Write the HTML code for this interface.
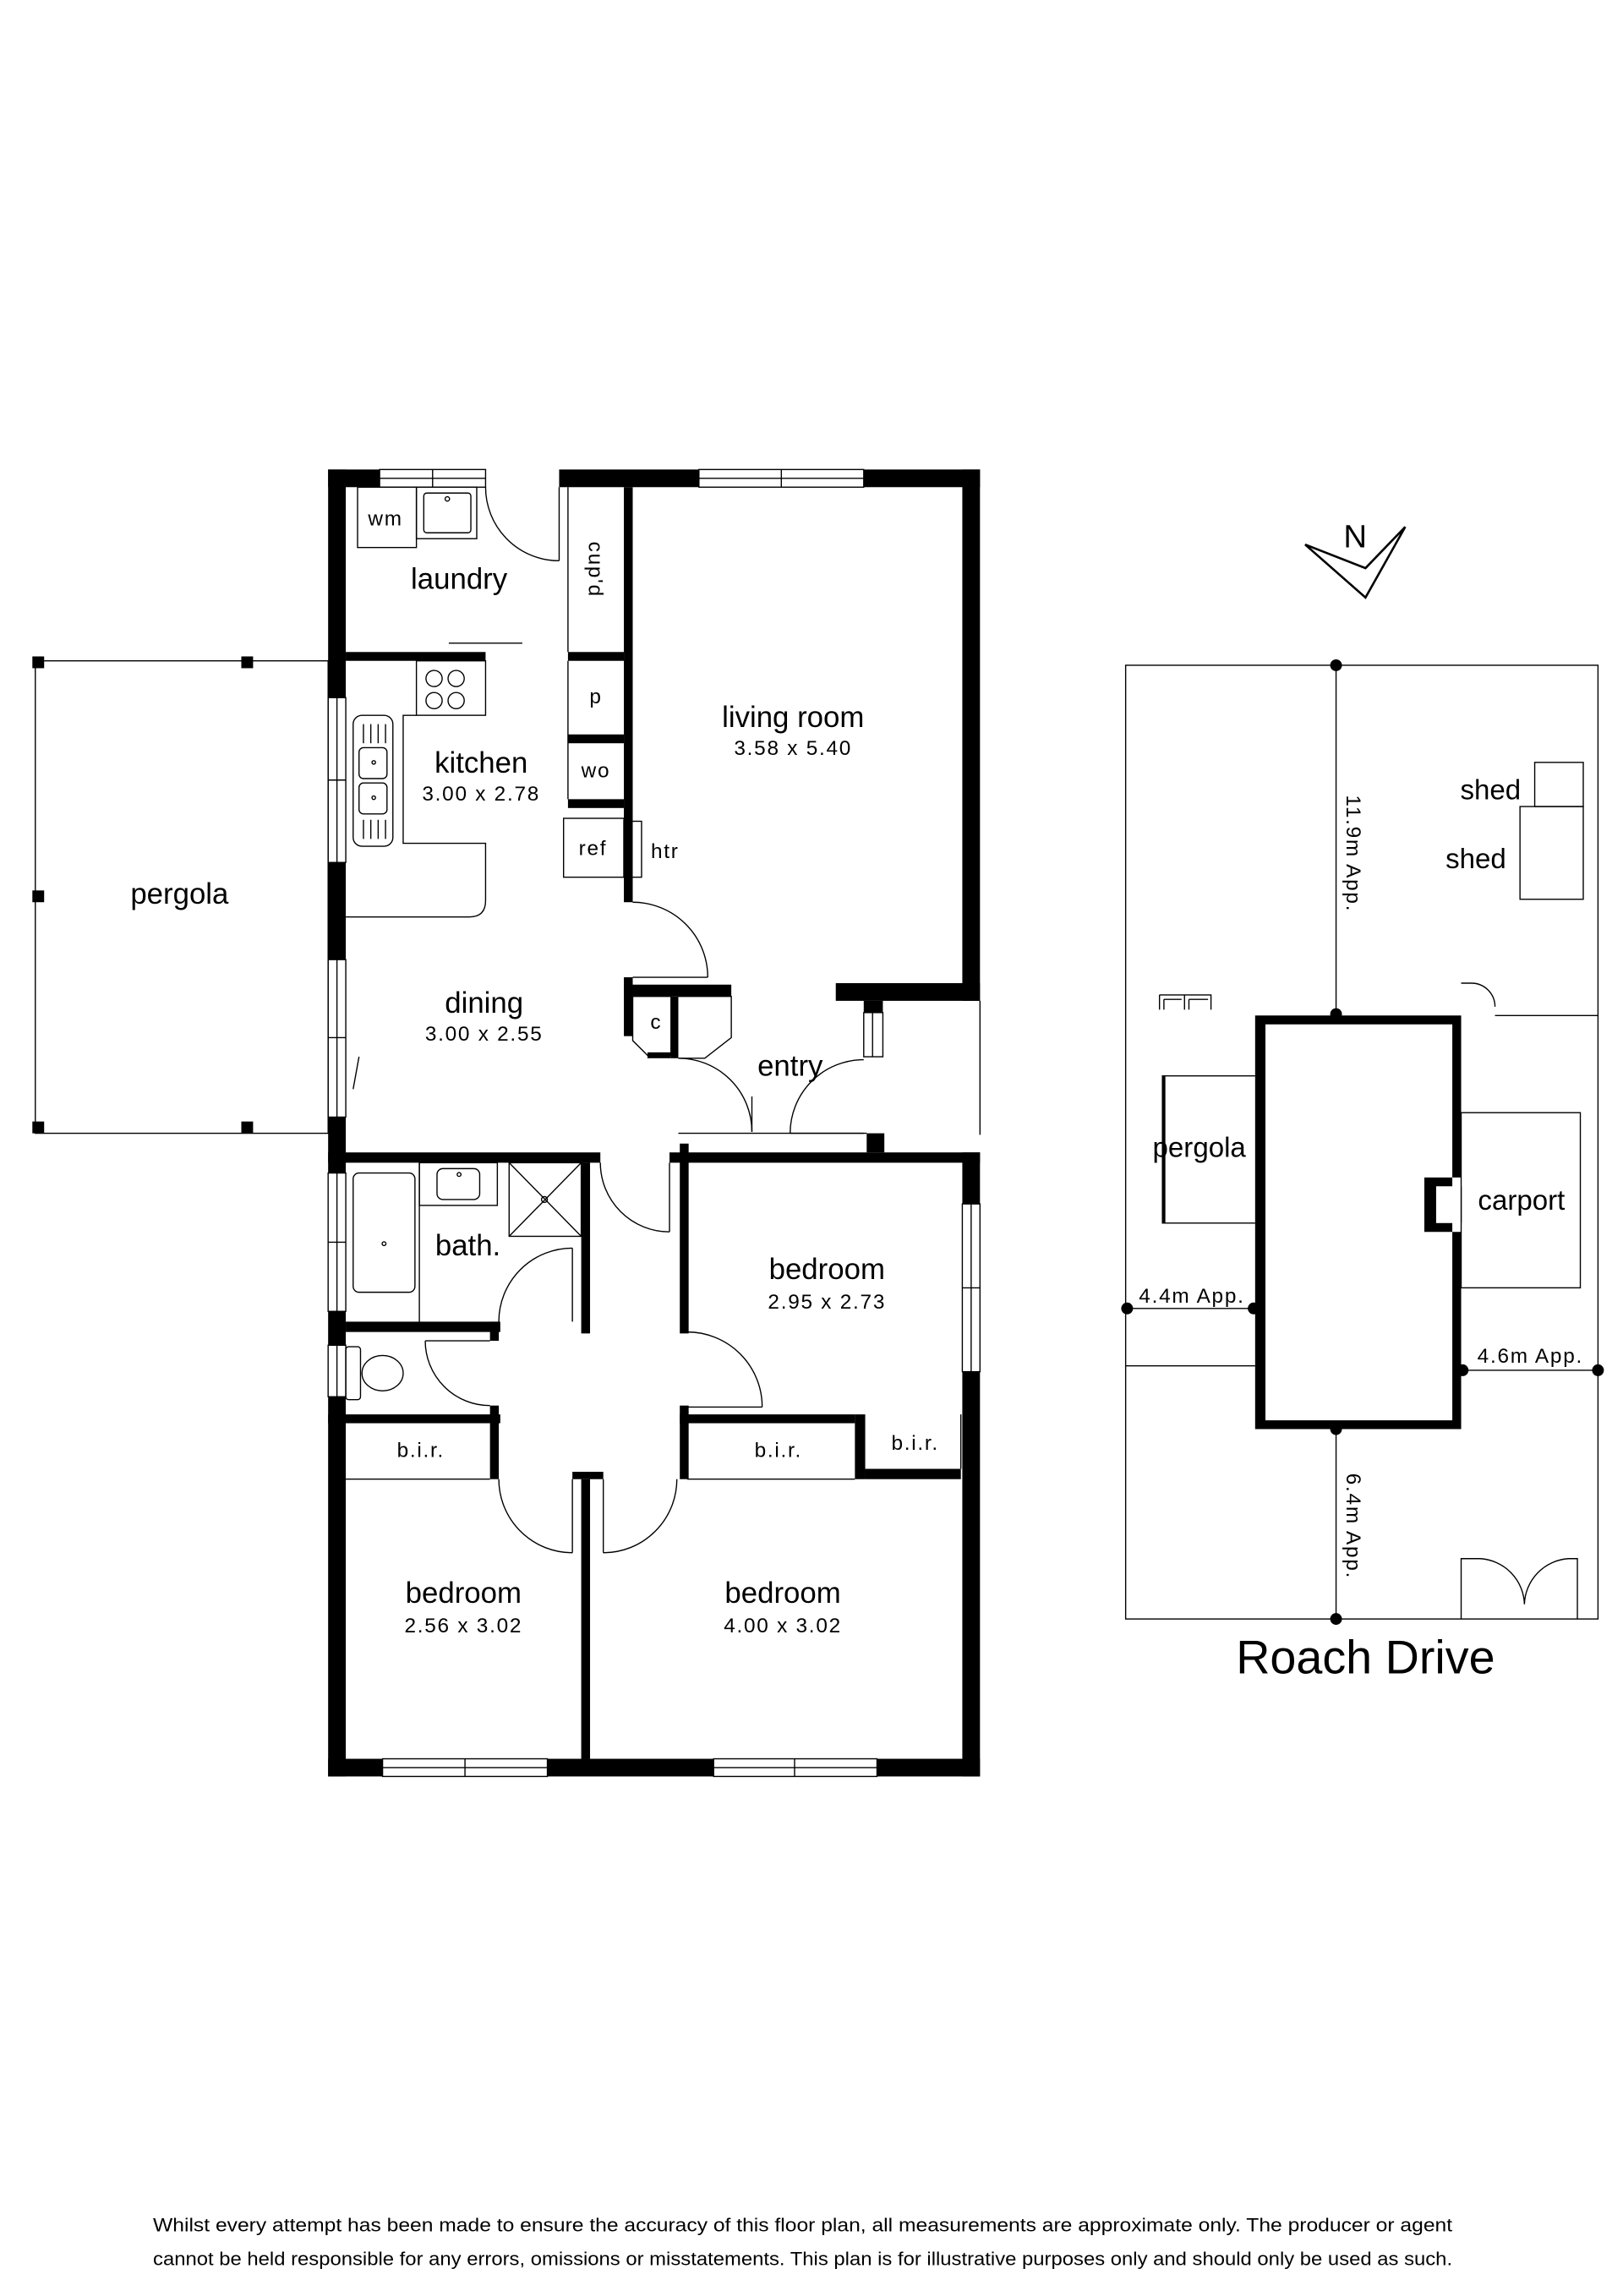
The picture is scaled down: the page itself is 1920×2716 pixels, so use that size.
<!DOCTYPE html>
<html><head><meta charset="utf-8"><style>
html,body{margin:0;padding:0;background:#fff}
svg{display:block}
text{font-family:"Liberation Sans",sans-serif;fill:#000}
.rl{font-size:20px}
.dm{font-size:14px;letter-spacing:1px;font-weight:300}
.sm{font-size:14px;letter-spacing:1px}
</style></head><body>
<svg width="1920" height="2716" viewBox="0 0 1103 1560" preserveAspectRatio="none" xmlns="http://www.w3.org/2000/svg">
<rect width="1103" height="1560" fill="#fff"/>
<g fill="none" stroke="#000" stroke-width="0.8">
<rect x="24" y="449" width="199" height="321"/>
<rect x="258" y="319" width="72" height="12"/><line x1="258" y1="325" x2="330" y2="325"/><line x1="294" y1="319" x2="294" y2="331"/>
<rect x="475" y="319" width="112" height="12"/><line x1="475" y1="325" x2="587" y2="325"/><line x1="531" y1="319" x2="531" y2="331"/>
<rect x="223" y="474" width="12" height="112"/><line x1="229" y1="474" x2="229" y2="586"/><line x1="223" y1="530" x2="235" y2="530"/>
<rect x="223" y="652" width="12" height="107"/><line x1="229" y1="652" x2="229" y2="759"/><line x1="223" y1="705" x2="235" y2="705"/>
<rect x="223" y="797" width="12" height="94"/><line x1="229" y1="797" x2="229" y2="891"/><line x1="223" y1="844" x2="235" y2="844"/>
<rect x="223" y="914" width="12" height="35"/><line x1="229" y1="914" x2="229" y2="949"/>
<rect x="654" y="818" width="12" height="114"/><line x1="660" y1="818" x2="660" y2="932"/><line x1="654" y1="875" x2="666" y2="875"/>
<rect x="260" y="1195" width="112" height="12"/><line x1="260" y1="1201" x2="372" y2="1201"/><line x1="316" y1="1195" x2="316" y2="1207"/>
<rect x="485" y="1195" width="111" height="12"/><line x1="485" y1="1201" x2="596" y2="1201"/><line x1="540" y1="1195" x2="540" y2="1207"/>
<rect x="587" y="688" width="13" height="30"/><line x1="593" y1="688" x2="593" y2="718"/>
<line x1="666" y1="680" x2="666" y2="771"/>
<line x1="461" y1="770" x2="589" y2="770"/>
<rect x="243" y="331" width="40" height="41"/>
<rect x="283" y="331" width="41" height="35"/><rect x="288" y="335" width="32" height="27" rx="2"/><circle cx="304" cy="339" r="1.5"/>
<line x1="305" y1="437" x2="355" y2="437"/>
<path d="M330 331 A50 50 0 0 0 380 381"/><line x1="380" y1="331" x2="380" y2="381"/>
<line x1="386" y1="331" x2="386" y2="443"/>
<line x1="386" y1="449" x2="386" y2="543"/>
<rect x="283" y="449" width="47" height="37"/>
<circle cx="295" cy="461" r="5.5"/><circle cx="310" cy="461" r="5.5"/><circle cx="295" cy="476" r="5.5"/><circle cx="310" cy="476" r="5.5"/>
<path d="M283 486 L274 486 L274 573 L330 573 L330 612 Q330 623 319 623 L235 623"/>
<rect x="240" y="486" width="27" height="89" rx="6"/>
<rect x="244" y="508" width="19" height="21" rx="3"/><rect x="244" y="532" width="19" height="21" rx="3"/>
<circle cx="254" cy="518" r="1.2"/><circle cx="254" cy="542" r="1.2"/>
<line x1="247" y1="492" x2="247" y2="505"/><line x1="252" y1="492" x2="252" y2="505"/><line x1="257" y1="492" x2="257" y2="505"/><line x1="262" y1="492" x2="262" y2="505"/>
<line x1="247" y1="557" x2="247" y2="570"/><line x1="252" y1="557" x2="252" y2="570"/><line x1="257" y1="557" x2="257" y2="570"/><line x1="262" y1="557" x2="262" y2="570"/>
<rect x="383" y="556" width="41" height="40"/><rect x="424" y="558" width="12" height="38"/>
<line x1="240" y1="740" x2="244" y2="718"/>
<path d="M430 613 A51 51 0 0 1 481 664"/><line x1="430" y1="664" x2="481" y2="664"/>
<path d="M461 719 A50 50 0 0 1 511 769"/><line x1="511" y1="745" x2="511" y2="769"/>
<path d="M537 770 A50 50 0 0 1 587 720"/><line x1="537" y1="770" x2="587" y2="770"/>
<path d="M430 677 L456 677 L456 717 L440 717 L430 707 Z"/>
<path d="M461 677 L497 677 L497 705 L479 719 L461 719"/>
<rect x="240" y="797" width="42" height="81" rx="4"/><circle cx="261" cy="845" r="1.3"/>
<line x1="285" y1="790" x2="285" y2="898"/>
<rect x="285" y="790" width="53" height="29"/><rect x="297" y="794" width="29" height="21" rx="4"/><circle cx="312" cy="798" r="1.3"/>
<rect x="346" y="790" width="49" height="50"/><line x1="346" y1="790" x2="395" y2="840"/><line x1="395" y1="790" x2="346" y2="840"/><circle cx="370" cy="815" r="2"/>
<path d="M408 790 A47 47 0 0 0 455 837"/><line x1="455" y1="790" x2="455" y2="837"/>
<path d="M339 898 A50 50 0 0 1 389 848"/><line x1="389" y1="848" x2="389" y2="898"/>
<rect x="235" y="915" width="10" height="36" rx="2"/><ellipse cx="260" cy="933" rx="14" ry="12"/>
<path d="M289 911 A44 44 0 0 0 333 955"/><line x1="289" y1="911" x2="333" y2="911"/>
<line x1="235" y1="1005" x2="333" y2="1005"/>
<path d="M339 1005 A50 50 0 0 0 389 1055"/><line x1="389" y1="1005" x2="389" y2="1055"/>
<path d="M460 1005 A50 50 0 0 1 410 1055"/><line x1="410" y1="1005" x2="410" y2="1055"/>
<path d="M467 905 A51 51 0 0 1 518 956"/><line x1="467" y1="956" x2="518" y2="956"/>
<line x1="467" y1="1005" x2="581" y2="1005"/>
<line x1="653" y1="961" x2="653" y2="998"/>
<rect x="765" y="452" width="321" height="648"/>
<line x1="908" y1="452" x2="908" y2="690"/>
<line x1="908" y1="971" x2="908" y2="1100"/>
<line x1="765" y1="889" x2="853" y2="889"/>
<line x1="765" y1="928" x2="853" y2="928"/>
<line x1="993" y1="931" x2="1086" y2="931"/>
<line x1="1016" y1="690" x2="1086" y2="690"/>
<path d="M993 668 L1000 668 A16 16 0 0 1 1016 684"/>
<rect x="1043" y="518" width="33" height="30"/><rect x="1033" y="548" width="43" height="63"/>
<path d="M788 676 L823 676 L823 686 M788 686 L788 676 M805 676 L805 686 M791 679 L803 679 M808 679 L821 679 M791 679 L791 686 M808 679 L808 686"/>
<path d="M853 731 L790 731 L790 831 L853 831"/>
<rect x="993" y="756" width="81" height="119"/>
<path d="M993 1100 L993 1059 L1006 1059 A32 32 0 0 1 1036 1090 A32 32 0 0 1 1066 1059 L1072 1059 L1072 1100"/>
</g>
<g fill="#000">
<rect x="22" y="446" width="8" height="8"/><rect x="164" y="446" width="8" height="8"/><rect x="22" y="605" width="8" height="8"/><rect x="22" y="762" width="8" height="8"/><rect x="164" y="762" width="8" height="8"/>
<rect x="223" y="319" width="35" height="12"/><rect x="380" y="319" width="95" height="12"/><rect x="587" y="319" width="79" height="12"/>
<rect x="223" y="319" width="12" height="155"/><rect x="223" y="586" width="12" height="66"/><rect x="223" y="759" width="12" height="38"/><rect x="223" y="891" width="12" height="23"/><rect x="223" y="949" width="12" height="258"/>
<rect x="654" y="319" width="12" height="361"/><rect x="568" y="668" width="98" height="12"/>
<rect x="587" y="680" width="13" height="8"/><rect x="589" y="770" width="12" height="13"/>
<rect x="654" y="783" width="12" height="35"/><rect x="654" y="932" width="12" height="275"/>
<rect x="223" y="1195" width="37" height="12"/><rect x="372" y="1195" width="113" height="12"/><rect x="596" y="1195" width="70" height="12"/>
<rect x="235" y="443" width="95" height="6"/>
<rect x="386" y="443" width="38" height="6"/><rect x="386" y="499" width="38" height="6"/><rect x="386" y="543" width="38" height="6"/>
<rect x="424" y="331" width="6" height="282"/>
<rect x="424" y="669" width="73" height="8"/><rect x="424" y="664" width="6" height="40"/>
<rect x="456" y="677" width="5" height="42"/><rect x="440" y="715" width="16" height="4"/>
<rect x="223" y="783" width="185" height="7"/><rect x="455" y="783" width="211" height="7"/>
<rect x="462" y="777" width="6" height="129"/><rect x="462" y="955" width="6" height="50"/>
<rect x="395" y="790" width="6" height="116"/>
<rect x="235" y="898" width="105" height="7"/><rect x="333" y="898" width="6" height="13"/>
<rect x="223" y="961" width="117" height="6"/><rect x="333" y="955" width="6" height="50"/>
<rect x="389" y="1000" width="21" height="5"/><rect x="395" y="1005" width="6" height="190"/>
<rect x="462" y="961" width="119" height="6"/><rect x="581" y="961" width="7" height="44"/><rect x="588" y="998" width="65" height="7"/>
<path fill-rule="evenodd" d="M853 690 L993 690 L993 800 L968 800 L968 837 L993 837 L993 971 L853 971 Z M860 696 L987 696 L987 965 L860 965 Z"/>
<rect x="976" y="806" width="17" height="25" fill="#fff"/>
<line x1="993" y1="806" x2="993" y2="831" stroke="#000" stroke-width="0.8"/>
<circle cx="908" cy="452" r="4"/><circle cx="908" cy="689" r="4"/><circle cx="908" cy="971" r="4"/><circle cx="908" cy="1100" r="4"/>
<circle cx="766" cy="889" r="4"/><circle cx="852" cy="889" r="4"/><circle cx="994" cy="931" r="4"/><circle cx="1086" cy="931" r="4"/>
<rect x="790" y="731" width="2" height="100"/>
</g>
<path d="M887 370 L928 386 L955 358 L928 406 Z" fill="#fff" stroke="#000" stroke-width="1.5"/>
<text x="921" y="372" font-size="22" text-anchor="middle">N</text>
<g text-anchor="middle">
<text x="262" y="357" class="sm">wm</text>
<text x="312" y="400" class="rl">laundry</text>
<text x="405" y="387" class="sm" transform="rotate(90 405 387)" dy="5">cup'd</text>
<text x="405" y="478" class="sm">p</text>
<text x="405" y="528" class="sm">wo</text>
<text x="539" y="494" class="rl">living room</text>
<text x="539" y="513" class="dm">3.58 x 5.40</text>
<text x="327" y="525" class="rl">kitchen</text>
<text x="327" y="544" class="dm">3.00 x 2.78</text>
<text x="403" y="581" class="sm">ref</text>
<text x="452" y="583" class="sm">htr</text>
<text x="122" y="614" class="rl">pergola</text>
<text x="329" y="688" class="rl">dining</text>
<text x="329" y="707" class="dm">3.00 x 2.55</text>
<text x="446" y="699" class="sm">c</text>
<text x="537" y="731" class="rl">entry</text>
<text x="318" y="853" class="rl">bath.</text>
<text x="562" y="869" class="rl">bedroom</text>
<text x="562" y="889" class="dm">2.95 x 2.73</text>
<text x="286" y="990" class="sm">b.i.r.</text>
<text x="529" y="990" class="sm">b.i.r.</text>
<text x="622" y="985" class="sm">b.i.r.</text>
<text x="315" y="1089" class="rl">bedroom</text>
<text x="315" y="1109" class="dm">2.56 x 3.02</text>
<text x="532" y="1089" class="rl">bedroom</text>
<text x="532" y="1109" class="dm">4.00 x 3.02</text>
<text x="1013" y="543" font-size="19">shed</text>
<text x="1003" y="590" font-size="19">shed</text>
<text x="815" y="786" font-size="19">pergola</text>
<text x="1034" y="822" font-size="19">carport</text>
<text x="915" y="580" class="dm" transform="rotate(90 915 580)">11.9m App.</text>
<text x="915" y="1037" class="dm" transform="rotate(90 915 1037)">6.4m App.</text>
<text x="810" y="885" class="dm">4.4m App.</text>
<text x="1040" y="926" class="dm">4.6m App.</text>
<text x="928" y="1137" font-size="32">Roach Drive</text>
</g>
<text x="104" y="1516" font-size="13" textLength="883" lengthAdjust="spacingAndGlyphs">Whilst every attempt has been made to ensure the accuracy of this floor plan, all measurements are approximate only. The producer or agent</text>
<text x="104" y="1539" font-size="13" textLength="883" lengthAdjust="spacingAndGlyphs">cannot be held responsible for any errors, omissions or misstatements. This plan is for illustrative purposes only and should only be used as such.</text>
</svg>
</body></html>
